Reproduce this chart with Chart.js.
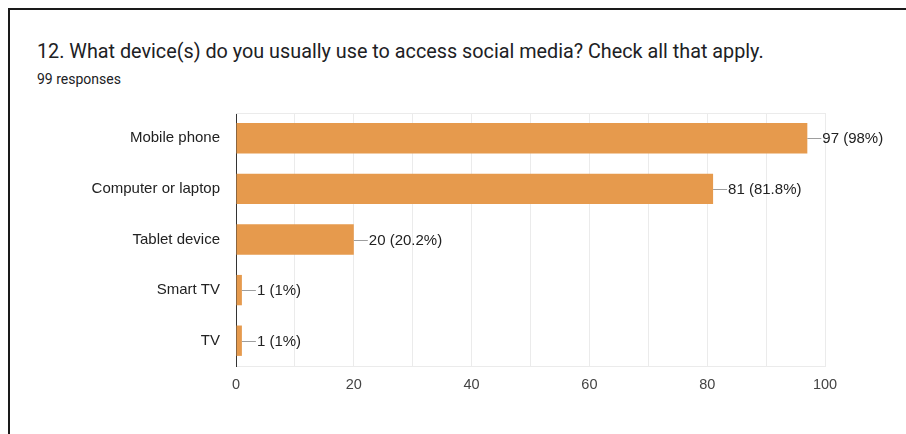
<!DOCTYPE html>
<html>
<head>
<meta charset="utf-8">
<script src="https://cdn.jsdelivr.net/npm/chart.js@4.4.1/dist/chart.umd.min.js"></script>
<style>
    body { margin: 0; background: #fff; }
    #wrap { position: relative; width: 906px; height: 434px; overflow: hidden; }
    #frame {
        position: absolute; left: 8px; top: 8px; right: -10px; bottom: -10px;
        border-top: 2px solid #1a1a1a; border-left: 2px solid #1a1a1a;
    }
    #title {
        position: absolute; left: 37px; top: 40px;
        font-family: Roboto, Arial, sans-serif; font-size: 19.8px; color: #202124;
        white-space: nowrap;
    }
    #sub {
        position: absolute; left: 37px; top: 71px;
        font-family: Roboto, Arial, sans-serif; font-size: 14px; color: #202124;
    }
    #chart { position: absolute; left: 0; top: 0; }
</style>
</head>
<body>
<div id="wrap">
    <div id="frame"></div>
    <div id="title">12. What device(s) do you usually use to access social media? Check all that apply.</div>
    <div id="sub">99 responses</div>
    <canvas id="chart" width="906" height="434"></canvas>
</div>
<script>
// Dados do gráfico
const categories = ['Mobile phone', 'Computer or laptop', 'Tablet device', 'Smart TV', 'TV'];
const counts = [97, 81, 20, 1, 1];
const percents = ['98%', '81.8%', '20.2%', '1%', '1%'];
const xTicks = [0, 20, 40, 60, 80, 100];

const fontFamily = 'Arial, "Liberation Sans", sans-serif';
const labelFont = { family: fontFamily, size: 15 };

// Rótulos de valor com linha guia
const valueLabels = {
    id: 'valueLabels',
    afterDatasetsDraw(chart) {
        const ctx = chart.ctx;
        const meta = chart.getDatasetMeta(0);
        ctx.save();
        ctx.font = labelFont.size + 'px ' + labelFont.family;
        ctx.textBaseline = 'middle';
        meta.data.forEach((bar, i) => {
            ctx.strokeStyle = '#9e9e9e';
            ctx.lineWidth = 1;
            ctx.beginPath();
            ctx.moveTo(bar.x, Math.round(bar.y) + 0.5);
            ctx.lineTo(bar.x + 14, Math.round(bar.y) + 0.5);
            ctx.stroke();
            ctx.fillStyle = '#222';
            ctx.fillText(counts[i] + ' (' + percents[i] + ')', bar.x + 15, bar.y + 1);
        });
        ctx.restore();
    }
};

// Linha superior da área do gráfico
const topLine = {
    id: 'topLine',
    beforeDatasetsDraw(chart) {
        const a = chart.chartArea;
        const ctx = chart.ctx;
        ctx.save();
        ctx.strokeStyle = '#ebebeb';
        ctx.lineWidth = 1;
        ctx.beginPath();
        ctx.moveTo(a.left, a.top + 0.5);
        ctx.lineTo(a.right, a.top + 0.5);
        ctx.stroke();
        ctx.restore();
    }
};

new Chart(document.getElementById('chart'), {
    type: 'bar',
    data: {
        labels: categories,
        datasets: [{
            data: counts,
            backgroundColor: '#e69a4d',
            borderWidth: 0,
            categoryPercentage: 1,
            barPercentage: 0.6
        }]
    },
    options: {
        indexAxis: 'y',
        responsive: false,
        animation: false,
        layout: { padding: { left: 0, right: 81, top: 113, bottom: 0 } },
        plugins: {
            legend: { display: false },
            tooltip: { enabled: false }
        },
        scales: {
            x: {
                min: 0,
                max: 100,
                afterFit(scale) { scale.height = 68; },
                afterBuildTicks(scale) {
                    scale.ticks = [];
                    for (let v = 0; v <= 100; v += 10) scale.ticks.push({ value: v });
                },
                ticks: {
                    padding: 10,
                    color: '#444',
                    font: { family: fontFamily, size: 14.5 },
                    callback: v => xTicks.includes(v) ? String(v) : ''
                },
                grid: { color: '#ebebeb', drawTicks: false },
                border: { color: '#ebebeb' }
            },
            y: {
                afterFit(scale) { scale.width = 236; },
                ticks: {
                    padding: 16,
                    color: '#222',
                    font: labelFont
                },
                grid: { display: false, drawTicks: false },
                border: { color: '#333', width: 1 }
            }
        }
    },
    plugins: [valueLabels, topLine]
});
</script>
</body>
</html>
